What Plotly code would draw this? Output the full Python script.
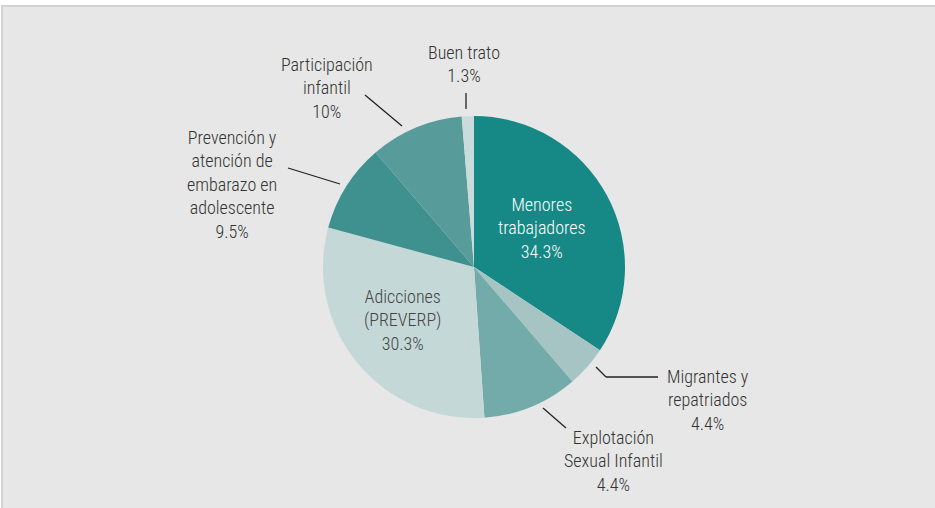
import plotly.graph_objects as go

W, H = 935, 508

# slices, clockwise from 12 o'clock
programas = ["Menores trabajadores", "Migrantes y repatriados", "Explotación Sexual Infantil",
             "Adicciones (PREVERP)", "Prevención y atención de embarazo en adolescente",
             "Participación infantil", "Buen trato"]
# share as drawn in the picture (the Explotación slice is drawn ~10.2 although labelled 4.4%)
porcentaje = [34.3, 4.4, 10.2, 30.3, 9.5, 10, 1.3]
etiquetas = ["Menores<br>trabajadores<br>34.3%", "Migrantes y<br>repatriados<br>4.4%",
             "Explotación<br>Sexual Infantil<br>4.4%", "Adicciones<br>(PREVERP)<br>30.3%",
             "Prevención y<br>atención de<br>embarazo en<br>adolescente<br>9.5%",
             "Participación<br>infantil<br>10%", "Buen trato<br>1.3%"]
colores = ["#168886", "#a6c4c4", "#72abaa", "#c5d8d8", "#3f9190", "#579c9a", "#c9dbdb"]

FONT = "Liberation Sans Narrow, Roboto Condensed, Roboto, sans-serif"


def px(x):
    return x / W


def py(y):
    return 1 - y / H


cx, cy, r = 474, 267, 151

fig = go.Figure()
fig.add_trace(go.Pie(
    labels=programas, values=porcentaje, sort=False, direction="clockwise", rotation=0,
    marker=dict(colors=colores, line=dict(width=0)),
    textinfo="none", hoverinfo="label+percent", showlegend=False,
    domain=dict(x=[px(cx - r), px(cx + r)], y=[py(cy + r), py(cy - r)]),
))

# label positions (pixel centres) and text colours
pos_x = [542, 708, 613, 402, 232, 327, 464]
pos_y = [228, 400, 461, 320, 184, 88, 64]
col_txt = ["white", "#333333", "#333333", "#444444", "#333333", "#333333", "#333333"]

for t, x, y, c in zip(etiquetas, pos_x, pos_y, col_txt):
    fig.add_annotation(x=px(x), y=py(y), xref="paper", yref="paper", text=t, showarrow=False,
                       xanchor="center", yanchor="middle",
                       font=dict(family=FONT, size=18, color=c, weight=300), align="center")

# leader lines
lineas = [
    [(466, 93), (466, 109)],
    [(365, 95), (402, 126)],
    [(288, 168), (340, 184)],
    [(596, 367), (606, 377), (658, 377)],
    [(543, 408), (566, 428)],
]
shapes = [dict(type="rect", xref="paper", yref="paper", x0=px(2), x1=1.02, y0=-0.02, y1=py(6),
               fillcolor="#e6e7e6", line=dict(color="#d2d3d2", width=2), layer="below")]
for pts in lineas:
    for (x0, y0), (x1, y1) in zip(pts[:-1], pts[1:]):
        shapes.append(dict(type="line", xref="paper", yref="paper", x0=px(x0), y0=py(y0),
                           x1=px(x1), y1=py(y1), line=dict(color="#222222", width=1.3)))

fig.update_layout(width=W, height=H, margin=dict(l=0, r=0, t=0, b=0),
                  paper_bgcolor="white", plot_bgcolor="white", shapes=shapes,
                  font=dict(family=FONT))

fig.write_html("out.html", config={"displayModeBar": False},
               post_script="document.body.style.margin='0';")
